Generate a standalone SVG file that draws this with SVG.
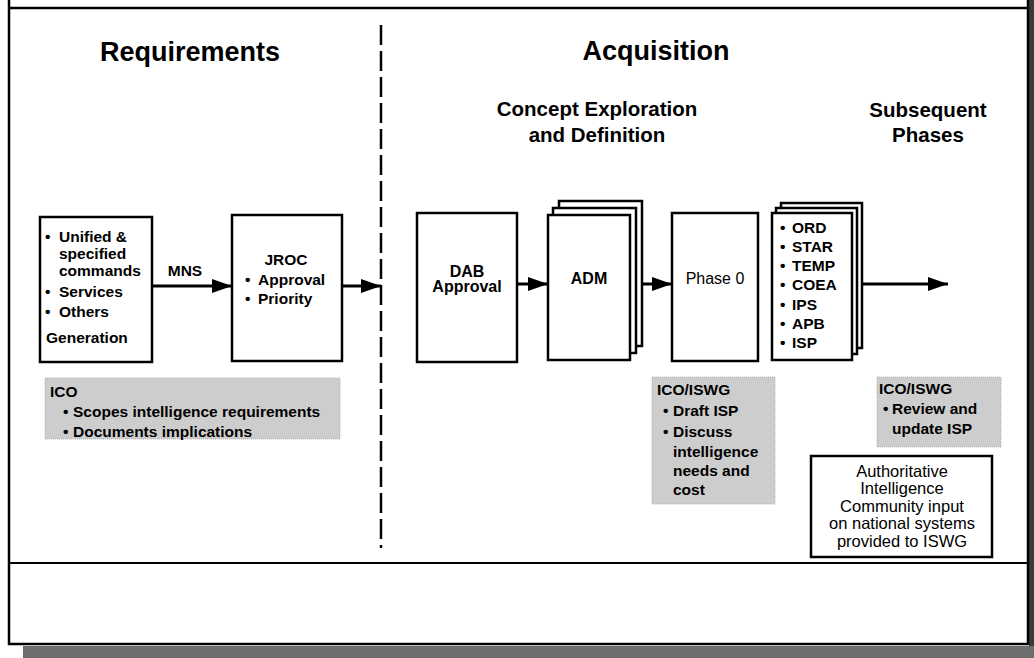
<svg xmlns="http://www.w3.org/2000/svg" width="1034" height="658" viewBox="0 0 1034 658">
<style>
text{font-family:"Liberation Sans",Arial,Helvetica,sans-serif;fill:#000}
.h1{font-size:27px;font-weight:bold;text-anchor:middle}
.h2{font-size:20.5px;font-weight:bold;text-anchor:middle}
.b{font-size:15.5px;font-weight:bold}
.c{text-anchor:middle}
.r{font-size:16.5px;font-weight:normal}
.box{fill:#fff;stroke:#000;stroke-width:2.5}
.gray{fill:#cdcdcd;stroke:#b0b0b0;stroke-width:1;stroke-dasharray:1 1}
.conn{stroke:#000;stroke-width:3;fill:none}
</style>
<defs>
<marker id="ah" markerUnits="userSpaceOnUse" markerWidth="20" markerHeight="14" refX="20" refY="7" orient="auto">
<path d="M0,0 L20,7 L0,14 z" fill="#000"/>
</marker>
</defs>
<rect width="1034" height="658" fill="#fff"/>
<g id="frame">
<rect x="1029" y="0" width="5" height="658" fill="#3a3a3a"/>
<rect x="23" y="646" width="1011" height="12" fill="#6e6e6e"/>
<path d="M9,0 V644 H1028 V0 M9,8 H1028" fill="none" stroke="#000" stroke-width="2.5"/>
<line x1="9" y1="563" x2="1028" y2="563" stroke="#000" stroke-width="2"/>
<line x1="381" y1="25" x2="381" y2="548" stroke="#000" stroke-width="2.5" stroke-dasharray="20 6"/>
</g>
<g id="headings">
<text class="h1" x="190" y="61">Requirements</text>
<text class="h1" x="656" y="60">Acquisition</text>
<text class="h2" x="597" y="116">Concept Exploration</text>
<text class="h2" x="597" y="142">and Definition</text>
<text class="h2" x="928" y="117">Subsequent</text>
<text class="h2" x="928" y="142">Phases</text>
</g>
<g id="connectors">
<line class="conn" x1="152" y1="286" x2="232" y2="286" marker-end="url(#ah)"/>
<text class="b c" x="185" y="276">MNS</text>
<line class="conn" x1="342" y1="286" x2="381" y2="286" marker-end="url(#ah)"/>
<line class="conn" x1="517" y1="284" x2="548" y2="284" marker-end="url(#ah)"/>
<line class="conn" x1="641" y1="284" x2="672" y2="284" marker-end="url(#ah)"/>
<line class="conn" x1="861" y1="284" x2="948" y2="284" marker-end="url(#ah)"/>
</g>
<g id="generation">
<rect class="box" x="40" y="217" width="112" height="145"/>
<text class="b" x="45" y="242">•</text><text class="b" x="59" y="242">Unified &amp;</text>
<text class="b" x="59" y="259">specified</text>
<text class="b" x="59" y="276">commands</text>
<text class="b" x="45" y="297">•</text><text class="b" x="59" y="297">Services</text>
<text class="b" x="45" y="317">•</text><text class="b" x="59" y="317">Others</text>
<text class="b" x="46" y="343">Generation</text>
</g>
<g id="jroc">
<rect class="box" x="232" y="215" width="110" height="146"/>
<text class="b c" x="286" y="265">JROC</text>
<text class="b" x="245" y="285">•</text><text class="b" x="258" y="285">Approval</text>
<text class="b" x="245" y="304">•</text><text class="b" x="258" y="304">Priority</text>
</g>
<g id="ico">
<rect class="gray" x="45" y="378" width="295" height="61"/>
<text class="b" x="50" y="397">ICO</text>
<text class="b" x="63" y="417">•</text><text class="b" x="73" y="417">Scopes intelligence requirements</text>
<text class="b" x="63" y="437">•</text><text class="b" x="73" y="437">Documents implications</text>
</g>
<g id="dab">
<rect class="box" x="417" y="213" width="100" height="149"/>
<text class="b c" x="467" y="277" style="font-size:16px">DAB</text>
<text class="b c" x="467" y="292" style="font-size:16px">Approval</text>
</g>
<g id="adm">
<rect class="box" x="559" y="201" width="83" height="145"/>
<rect class="box" x="553" y="208" width="83" height="145"/>
<rect class="box" x="548" y="215" width="82" height="145"/>
<text class="b c" x="589" y="284" style="font-size:16px">ADM</text>
</g>
<g id="phase0">
<rect class="box" x="672" y="213" width="86" height="148"/>
<text class="r c" x="715" y="284" style="font-size:16px">Phase 0</text>
</g>
<g id="documents">
<rect class="box" x="781" y="203" width="81" height="145"/>
<rect class="box" x="776" y="208" width="81" height="146"/>
<rect class="box" x="772" y="213" width="80" height="147"/>
<text class="b" x="780" y="233">•</text><text class="b" x="792" y="233">ORD</text>
<text class="b" x="780" y="252">•</text><text class="b" x="792" y="252">STAR</text>
<text class="b" x="780" y="271">•</text><text class="b" x="792" y="271">TEMP</text>
<text class="b" x="780" y="290">•</text><text class="b" x="792" y="290">COEA</text>
<text class="b" x="780" y="310">•</text><text class="b" x="792" y="310">IPS</text>
<text class="b" x="780" y="329">•</text><text class="b" x="792" y="329">APB</text>
<text class="b" x="780" y="348">•</text><text class="b" x="792" y="348">ISP</text>
</g>
<g id="ico-iswg-1">
<rect class="gray" x="652" y="377" width="123" height="127"/>
<text class="b" x="657" y="395">ICO/ISWG</text>
<text class="b" x="663" y="416">•</text><text class="b" x="673" y="416">Draft ISP</text>
<text class="b" x="663" y="437">•</text><text class="b" x="673" y="437">Discuss</text>
<text class="b" x="673" y="457">intelligence</text>
<text class="b" x="673" y="476">needs and</text>
<text class="b" x="673" y="495">cost</text>
</g>
<g id="ico-iswg-2">
<rect class="gray" x="877" y="377" width="124" height="70"/>
<text class="b" x="879" y="394">ICO/ISWG</text>
<text class="b" x="883" y="414">•</text><text class="b" x="892" y="414">Review and</text>
<text class="b" x="892" y="434">update ISP</text>
</g>
<g id="authoritative">
<rect class="box" x="811" y="456" width="181" height="101"/>
<text class="r c" x="902" y="477">Authoritative</text>
<text class="r c" x="902" y="494">Intelligence</text>
<text class="r c" x="902" y="512">Community input</text>
<text class="r c" x="902" y="529">on national systems</text>
<text class="r c" x="902" y="547">provided to ISWG</text>
</g>
</svg>
